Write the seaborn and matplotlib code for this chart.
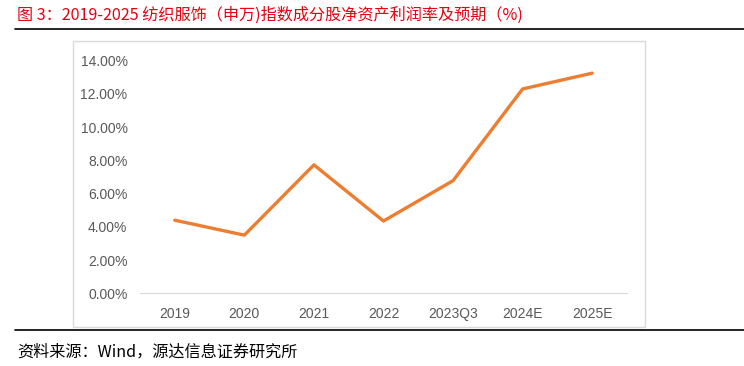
import matplotlib
matplotlib.use("Agg")
import matplotlib.pyplot as plt
import matplotlib.patches as patches
from matplotlib.lines import Line2D
from matplotlib.ticker import FuncFormatter
import seaborn as sns
import pandas as pd

categories = ["2019", "2020", "2021", "2022", "2023Q3", "2024E", "2025E"]
roe = [4.40, 3.50, 7.73, 4.35, 6.78, 12.30, 13.25]
title = "图 3：2019-2025 纺织服饰（申万)指数成分股净资产利润率及预期（%)"
source = "资料来源：Wind，源达信息证券研究所"

sns.set_style("white")
plt.rcParams['font.family'] = ['Noto Sans CJK SC', 'DejaVu Sans']

df = pd.DataFrame({"period": categories, "roe": roe})

fig = plt.figure(figsize=(7.44, 3.66), dpi=100)
W, H = 744, 366

# outer chart frame
fig.add_artist(patches.Rectangle((73 / W, 1 - 327 / H), (645 - 73) / W, (327 - 41) / H,
                                 transform=fig.transFigure, fill=False,
                                 edgecolor="#d9d9d9", linewidth=1))
# black rules
fig.add_artist(Line2D([15 / W, 1], [1 - 29 / H] * 2, color="black", linewidth=1.2))
fig.add_artist(Line2D([15 / W, 1], [1 - 330 / H] * 2, color="black", linewidth=1.2))

fig.text(17 / W, 1 - 15 / H, title, color="#e60012", fontsize=11.6, va="center", ha="left")
fig.text(17 / W, 1 - 352 / H, source, color="black", fontsize=11.6, va="center", ha="left")

ax = fig.add_axes([140 / W, 1 - 293.3 / H, (627 - 140) / W, (293.3 - 60.7) / H])
sns.lineplot(data=df, x="period", y="roe", ax=ax, sort=False, color="#ED7D31", linewidth=2.4)

ax.set_xlim(-0.5, len(categories) - 0.5)
ax.set_ylim(0, 14)
ax.set_yticks(range(0, 15, 2))
ax.yaxis.set_major_formatter(FuncFormatter(lambda v, p: f"{v:.2f}%"))
ax.set_xlabel("")
ax.set_ylabel("")
for s in ["top", "right", "left"]:
    ax.spines[s].set_visible(False)
ax.spines["bottom"].set_color("#d9d9d9")
ax.tick_params(axis="both", length=0, colors="#595959", labelsize=10)
ax.tick_params(axis="x", pad=10)
ax.tick_params(axis="y", pad=9)
for lab in ax.get_xticklabels() + ax.get_yticklabels():
    lab.set_family(["Liberation Sans", "DejaVu Sans"])
ax.patch.set_alpha(0)

fig.savefig("out.png", dpi=100)
